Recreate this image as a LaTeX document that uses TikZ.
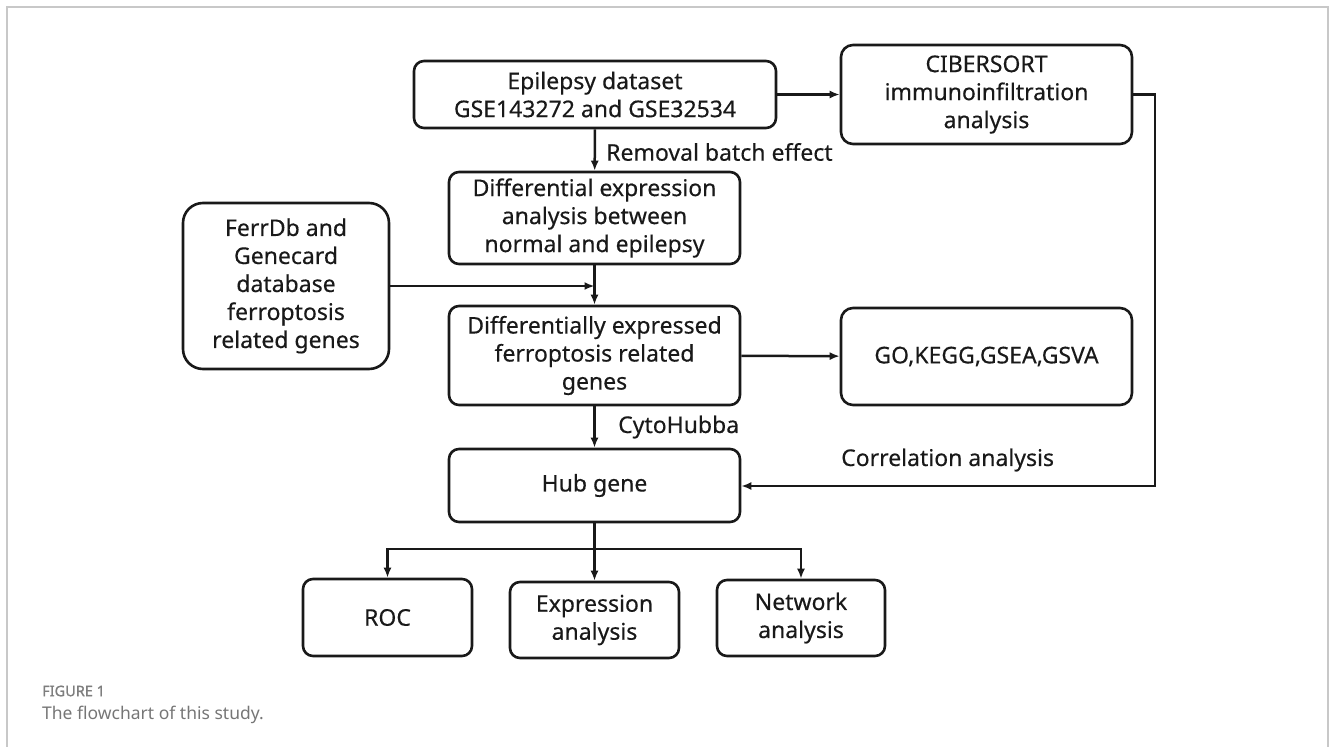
\documentclass[tikz,border=0pt]{standalone}
\usepackage{fontspec}
\setmainfont{Noto Sans}
\newfontfamily\boxfont[FakeBold=0.35]{Noto Sans}
\newfontfamily\figfont[FakeBold=1.2]{Noto Sans}
\usetikzlibrary{arrows.meta}
\definecolor{framegray}{HTML}{C8C8C8}
\definecolor{capgray}{HTML}{767676}
\definecolor{figgray}{HTML}{7E7E7E}
\begin{document}
\begin{tikzpicture}[x=1pt,y=-1pt,
  box/.style={draw=black!90, line width=2.6pt, rounded corners=10pt, align=center, inner sep=0pt,
    font=\boxfont\fontsize{23}{28}\selectfont, text=black!90},
  arr/.style={draw=black!90, line width=2.5pt, -{Latex[length=10pt,width=8pt]}},
  lbl/.style={font=\boxfont\fontsize{23}{28}\selectfont, anchor=west, inner sep=0pt, text=black!90}]
\useasboundingbox (0,0) rectangle (1331,747);
\draw[framegray, line width=1.5pt] (7,747) -- (7,7) -- (1328,7) -- (1328,747);

\node[box, minimum width=362pt, minimum height=67pt] (ep) at (595,94.5) {Epilepsy dataset\\GSE143272 and GSE32534};
\node[box, minimum width=291pt, minimum height=99pt, rounded corners=12pt] (cib) at (986.5,94.5) {CIBERSORT\\immunoinfiltration\\analysis};
\node[box, minimum width=291pt, minimum height=92pt] (diff) at (594.5,218) {Differential expression\\analysis between\\normal and epilepsy};
\node[box, minimum width=206pt, minimum height=166pt, rounded corners=20pt] (ferr) at (286,286) {FerrDb and\\Genecard\\database\\ferroptosis\\related genes};
\node[box, minimum width=291pt, minimum height=99pt] (defrg) at (594.5,355.5) {Differentially expressed\\ferroptosis related\\genes};
\node[box, minimum width=291pt, minimum height=97pt, rounded corners=12pt] (go) at (986.5,356.5) {GO,KEGG,GSEA,GSVA};
\node[box, minimum width=291pt, minimum height=73pt] (hub) at (594.5,485.5) {Hub gene};
\node[box, minimum width=169pt, minimum height=77pt] (roc) at (387.5,617.5) {ROC};
\node[box, minimum width=169pt, minimum height=76pt] (expr) at (594.5,620) {Expression\\analysis};
\node[box, minimum width=168pt, minimum height=76pt] (net) at (801,618) {Network\\analysis};

\node[lbl] (l1) at (606,152) {Removal batch effect};
\node[lbl] (l2) at (618,427) {CytoHubba};
\node[lbl] (l3) at (841,460) {Correlation analysis};

\draw[arr] (ep) -- (cib);
\draw[arr] (ep) -- (diff);
\draw[arr] (diff) -- (defrg);
\coordinate (j1) at (diff.south |- ferr.east);
\draw[arr] (ferr.east) -- (j1);
\draw[arr] (defrg) -- (go);
\draw[arr] (defrg) -- (hub);
\coordinate (c1) at (1155,94.5);
\coordinate (c2) at (1155,486);
\draw[arr] (cib.east) -- (c1) -- (c2) -- (hub.east |- c2);
\draw[arr] (hub) -- (expr);
\coordinate (b1) at (roc.north |- 0,549);
\coordinate (b2) at (net.north |- 0,549);
\draw[arr] (b1 -| hub.south) -- (b1) -- (roc.north);
\draw[arr] (b1 -| hub.south) -- (b2) -- (net.north);

\node[anchor=west, inner sep=0pt, font=\figfont\fontsize{14.5}{16}\selectfont, text=figgray] (fig) at (42,691) {FIGURE 1};
\node[anchor=west, inner sep=0pt, font=\fontsize{17.5}{20}\selectfont, text=capgray] (cap) at (42,715) {The flowchart of this study.};
\end{tikzpicture}
\end{document}
